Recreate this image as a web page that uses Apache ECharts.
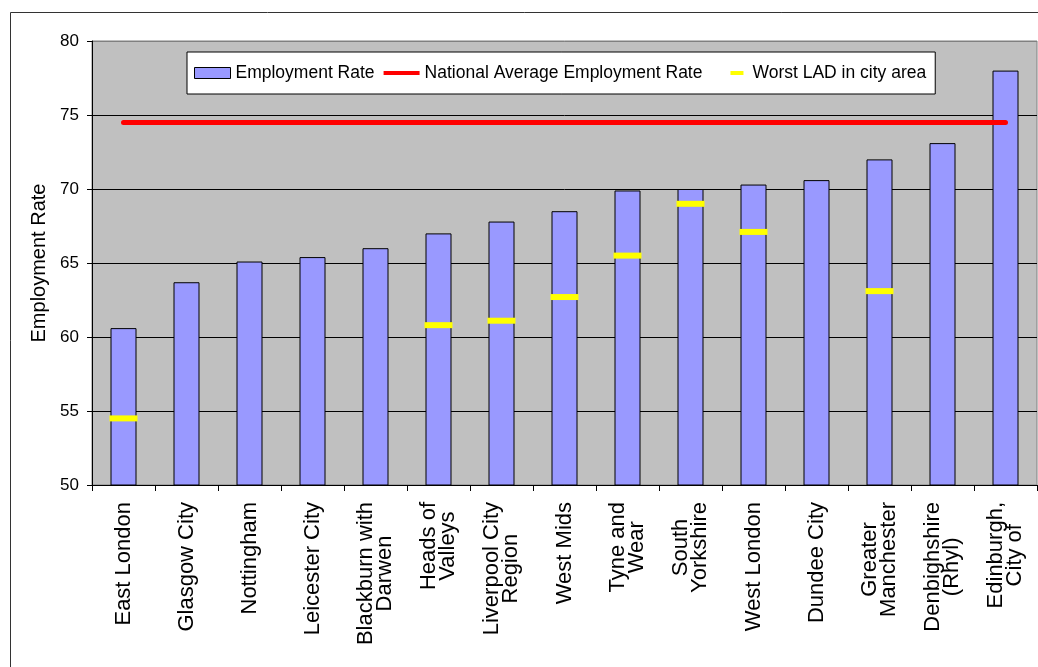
<!DOCTYPE html>
<html>
<head>
<meta charset="utf-8">
<script src="https://cdn.jsdelivr.net/npm/echarts@6/dist/echarts.min.js"></script>
<style>
  html, body { margin: 0; padding: 0; background: #fff; }
  #chart { width: 1038px; height: 667px; }
</style>
</head>
<body>
<div id="chart"></div>
<script>
const categories = [
  "East London", "Glasgow City", "Nottingham", "Leicester City",
  "Blackburn with\nDarwen", "Heads of\nValleys", "Liverpool City\nRegion",
  "West Mids", "Tyne and\nWear", "South\nYorkshire", "West London",
  "Dundee City", "Greater\nManchester", "Denbighshire\n(Rhyl)", "Edinburgh,\nCity of"
];
const employmentRate = [60.6, 63.7, 65.1, 65.4, 66.0, 67.0, 67.8, 68.5, 69.9, 70.0, 70.3, 70.6, 72.0, 73.1, 78.0];
const nationalAverage = [74.5, 74.5, 74.5, 74.5, 74.5, 74.5, 74.5, 74.5, 74.5, 74.5, 74.5, 74.5, 74.5, 74.5, 74.5];
// "-" where the city area has no worst-LAD marker
const worstLad = [54.5, "-", "-", "-", "-", 60.8, 61.1, 62.7, 65.5, 69.0, 67.1, "-", 63.1, "-", "-"];
const yMin = 50, yMax = 80, yStep = 5;

const font = "'Liberation Sans', Arial, sans-serif";
const chart = echarts.init(document.getElementById("chart"), null, { renderer: "canvas" });

chart.setOption({
  backgroundColor: "#fff",
  animation: false,
  textStyle: { fontFamily: font, color: "#000" },
  graphic: [{
    type: "rect", silent: true, z: -1,
    shape: { x: 10.5, y: 12.5, width: 1040, height: 670 },
    style: { fill: "none", stroke: "#333", lineWidth: 1 }
  }],
  legend: {
    left: 187, top: 52,
    padding: [12, 9, 12, 7],
    itemGap: 9, itemWidth: 36, itemHeight: 11,
    backgroundColor: "#fff", borderColor: "#000", borderWidth: 1,
    selectedMode: false,
    textStyle: { fontSize: 17.5, color: "#000", fontFamily: font },
    data: [
      { name: "Employment Rate", icon: "rect", itemStyle: { color: "#9999ff", borderColor: "#000", borderWidth: 1 } },
      { name: "National Average Employment Rate", icon: "path://M0,0M36,11M0,3.5H38V7.5H0Z", itemStyle: { color: "#ff0000", borderWidth: 0 } },
      { name: "Worst LAD in city area", icon: "path://M0,0M36,11M19,3.5H32V7.5H19Z", itemStyle: { color: "#ffff00", borderWidth: 0 } }
    ]
  },
  grid: {
    left: 92, right: 1, top: 41, bottom: 182,
    show: true, backgroundColor: "#c0c0c0", borderColor: "#808080", borderWidth: 1
  },
  xAxis: {
    type: "category", data: categories,
    axisLine: { lineStyle: { color: "#000", width: 1 } },
    axisTick: { show: true, length: 6, lineStyle: { color: "#000" } },
    axisLabel: {
      rotate: 90, interval: 0, margin: 17, color: "#000",
      // centre each line of a two-line label, as the original does
      formatter: (v) => v.split("\n").map((l) => "{c|" + l + "}").join("\n"),
      rich: { c: { align: "center", fontSize: 22, lineHeight: 19, fontFamily: font, color: "#000" } }
    },
    splitLine: { show: false }
  },
  yAxis: {
    type: "value", min: yMin, max: yMax, interval: yStep,
    name: "Employment Rate", nameLocation: "middle", nameGap: 35,
    nameTextStyle: { fontSize: 20, color: "#000", fontFamily: font },
    axisLine: { show: true, lineStyle: { color: "#000" } },
    axisTick: { show: true, length: 5, lineStyle: { color: "#000" } },
    axisLabel: { fontSize: 17, margin: 13, color: "#000", fontFamily: font },
    splitLine: { show: true, lineStyle: { color: ["#000", "#000", "#000", "#000", "#000", "#000", "#808080"], width: 1 } }
  },
  series: [
    {
      name: "Employment Rate", type: "bar", data: employmentRate,
      barWidth: 26,
      itemStyle: { color: "#9999ff", borderColor: "#000", borderWidth: 1 },
      z: 2
    },
    {
      name: "National Average Employment Rate", type: "line", data: nationalAverage,
      symbol: "none", color: "#ff0000",
      lineStyle: { color: "#ff0000", width: 5, cap: "round" },
      z: 3
    },
    {
      name: "Worst LAD in city area", type: "scatter", data: worstLad,
      symbol: "rect", symbolSize: [28, 6],
      itemStyle: { color: "#ffff00", opacity: 1 },
      z: 4
    }
  ]
});
</script>
</body>
</html>
